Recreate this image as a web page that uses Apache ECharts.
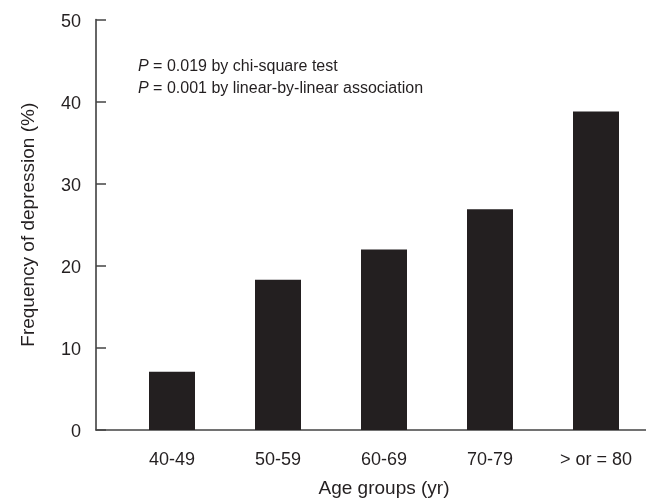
<!DOCTYPE html>
<html>
<head>
<meta charset="utf-8">
<script src="https://cdn.jsdelivr.net/npm/echarts@6/dist/echarts.min.js"></script>
<style>
  html, body { margin: 0; padding: 0; background: #fff; }
  #chart { width: 646px; height: 499px; }
</style>
</head>
<body>
<div id="chart"></div>
<script>
// Frequency of depression by age group
const ageGroups = ['40-49', '50-59', '60-69', '70-79', '> or = 80'];
const depressionPct = [7.1, 18.3, 22.0, 26.9, 38.8];
const yTicks = { min: 0, max: 50, step: 10 };
const noteLines = [
  ['P', ' = 0.019 by chi-square test'],
  ['P', ' = 0.001 by linear-by-linear association']
];

const FONT = "'Liberation Sans', Arial, sans-serif";
const INK = '#231f20';

const chart = echarts.init(document.getElementById('chart'), null, { renderer: 'canvas' });

chart.setOption({
  animation: false,
  backgroundColor: '#fff',
  textStyle: { fontFamily: FONT, color: INK },
  title: {
    left: 138,
    top: 56,
    padding: 0,
    text: noteLines.map(l => '{i|' + l[0] + '}' + l[1]).join('\n'),
    textStyle: {
      fontFamily: FONT,
      fontSize: 16,
      fontWeight: 'normal',
      color: INK,
      lineHeight: 22,
      rich: {
        i: { fontFamily: FONT, fontSize: 16, fontStyle: 'italic', color: INK, lineHeight: 22 }
      }
    }
  },
  grid: [
    { left: 119, right: -3, top: 19.5, bottom: 69, containLabel: false, outerBoundsMode: 'none' },
    { left: 96, right: 0, top: 19.5, bottom: 69, containLabel: false, outerBoundsMode: 'none' }
  ],
  xAxis: [
    {
      type: 'category',
      gridIndex: 0,
      data: ageGroups,
      axisLine: { show: false },
      axisTick: { show: false },
      axisLabel: { fontFamily: FONT, fontSize: 18, color: INK, margin: 21 },
      name: 'Age groups (yr)',
      nameLocation: 'middle',
      nameGap: 49,
      nameTextStyle: { fontFamily: FONT, fontSize: 19, color: INK }
    },
    {
      // baseline running the full width from the y axis
      type: 'value',
      gridIndex: 1,
      min: 0,
      max: 1,
      axisLine: { show: true, lineStyle: { color: '#444', width: 1.5 } },
      axisTick: { show: false },
      axisLabel: { show: false },
      splitLine: { show: false }
    }
  ],
  yAxis: [
    {
      type: 'value',
      gridIndex: 0,
      min: yTicks.min,
      max: yTicks.max,
      interval: yTicks.step,
      offset: 23,
      axisLine: { show: true, lineStyle: { color: '#333', width: 1.5 } },
      axisTick: { show: true, inside: true, length: 10, lineStyle: { color: '#444', width: 1.5 } },
      axisLabel: {
        fontFamily: FONT, fontSize: 18, color: INK, margin: 15,
        verticalAlign: 'top', lineHeight: 5
      },
      splitLine: { show: false },
      name: 'Frequency of depression (%)',
      nameLocation: 'middle',
      nameGap: 58,
      nameTextStyle: { fontFamily: FONT, fontSize: 19, color: INK }
    },
    {
      type: 'value',
      gridIndex: 1,
      show: false,
      min: 0,
      max: 1
    }
  ],
  series: [
    {
      type: 'bar',
      xAxisIndex: 0,
      yAxisIndex: 0,
      data: depressionPct,
      barWidth: 46,
      itemStyle: { color: INK }
    }
  ]
});
</script>
</body>
</html>
